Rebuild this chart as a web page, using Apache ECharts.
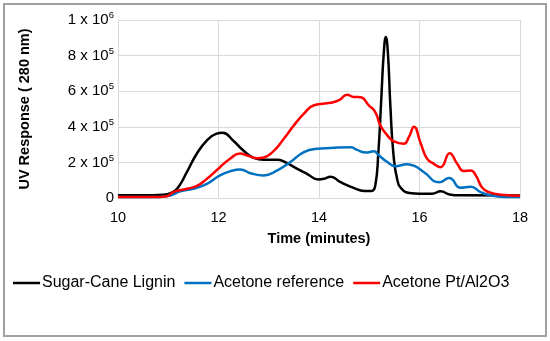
<!DOCTYPE html>
<html><head><meta charset="utf-8">
<script src="https://cdn.jsdelivr.net/npm/echarts@6/dist/echarts.min.js"></script>
<style>html,body{margin:0;padding:0;background:#fff}#c{width:550px;height:341px}</style>
</head><body><div id="c"></div>
<script>
const seriesNames = ['Sugar-Cane Lignin', 'Acetone reference', 'Acetone Pt/Al2O3'];
const xTicks = [10, 12, 14, 16, 18];
const yTickLabels = {0:'0', 200000:'2 x 10^5', 400000:'4 x 10^5', 600000:'6 x 10^5', 800000:'8 x 10^5', 1000000:'1 x 10^6'};

const ligninTime = [10.0,10.5,10.9,11.1,11.2,11.37,11.57,11.77,11.95,12.08,12.3,12.5,12.7,12.9,13.17,13.3,13.56,13.76,13.99,14.1,14.23,14.43,14.69,14.9,15.05,15.12,15.18,15.24,15.29,15.33,15.37,15.42,15.48,15.56,15.65,15.8,16.0,16.25,16.42,16.6,16.8,18.0];
const ligninUV   = [15000,15000,18000,35000,60000,145000,250000,324000,360000,366000,320000,265000,225000,215000,215000,205000,165000,136000,104000,108000,120000,89000,57000,40000,40000,70000,250000,560000,820000,905000,820000,520000,250000,100000,50000,28000,24000,24000,38000,20000,15000,14000];

const refTime = [10.0,10.8,11.04,11.24,11.5,11.77,12.03,12.23,12.43,12.65,12.9,13.17,13.43,13.7,13.96,14.23,14.63,14.76,14.93,15.09,15.19,15.36,15.52,15.75,15.9,16.09,16.39,16.59,16.82,17.02,17.22,17.42,17.7,18.0];
const refUV   = [5000,6000,14000,38000,52000,80000,127000,150000,160000,138000,127000,155000,202000,258000,277000,281000,285000,270000,255000,262000,240000,202000,178000,190000,180000,145000,88000,112000,57000,63000,33000,15000,6000,5000];

const ptTime = [10.0,10.8,10.97,11.1,11.37,11.57,11.77,12.03,12.23,12.43,12.57,12.77,12.9,13.1,13.3,13.5,13.7,13.9,14.23,14.4,14.56,14.69,14.83,14.99,15.12,15.22,15.36,15.49,15.69,15.79,15.89,16.02,16.15,16.28,16.42,16.6,16.75,16.88,17.02,17.12,17.25,17.38,17.62,18.0];
const ptUV   = [5000,6000,10000,33000,52000,68000,108000,173000,221000,250000,239000,224000,228000,265000,333000,408000,474000,521000,535000,550000,580000,568000,566000,521000,483000,408000,352000,318000,305000,343000,400000,310000,221000,193000,173000,252000,193000,151000,155000,127000,57000,33000,18000,12000];

const zip = (a, b) => a.map((t, i) => [t, b[i]]);
const colors = ['#000000', '#0070c0', '#ff0000'];
const dataSets = [zip(ligninTime, ligninUV), zip(refTime, refUV), zip(ptTime, ptUV)];

const chart = echarts.init(document.getElementById('c'));
const font = 'Liberation Sans, Arial, sans-serif';
chart.setOption({
  animation: false,
  graphic: [{type:'rect', shape:{x:4, y:4, width:542, height:332}, style:{fill:'none', stroke:'#a0a0a0', lineWidth:2}}],
  grid: {left:118, right:30, top:20, bottom:143},
  legend: {
    top: 270, left: 8, icon: 'rect', itemWidth: 27, itemHeight: 2.5, itemGap: 9,
    textStyle: {fontFamily: font, fontSize: 16, color: '#000', padding:[0,0,0,-3]},
    data: seriesNames
  },
  xAxis: {
    type: 'value', min: 10, max: 18, interval: 2,
    name: 'Time (minutes)', nameLocation: 'middle', nameGap: 33,
    nameTextStyle: {fontFamily: font, fontSize: 14.5, fontWeight: 'bold', color:'#000'},
    axisLine: {show: true, lineStyle: {color: '#d9d9d9'}},
    axisTick: {show: false},
    axisLabel: {fontFamily: font, fontSize: 14.5, color: '#000', margin: 12, formatter: v => xTicks.includes(v) ? String(v) : ''},
    splitLine: {show: true, lineStyle: {color: '#d9d9d9'}}
  },
  yAxis: {
    type: 'value', min: 0, max: 1000000, interval: 200000,
    name: 'UV Response ( 280 nm)', nameLocation: 'middle', nameGap: 86, nameRotate: 90,
    nameTextStyle: {fontFamily: font, fontSize: 14.5, fontWeight: 'bold', color:'#000'},
    axisLine: {show: true, lineStyle: {color: '#d9d9d9'}},
    axisTick: {show: false},
    axisLabel: {
      margin: 4, fontFamily: font, fontSize: 15, color: '#000',
      formatter: v => { const s = yTickLabels[v]; if (!s) return ''; if (s.indexOf('^') < 0) return '{b|' + s + '}'; const p = s.split('^'); return '{b|' + p[0] + '}{s|' + p[1] + '}'; },
      rich: {b: {fontFamily: font, fontSize: 15, color:'#000'}, s: {fontFamily: font, fontSize: 9.5, color:'#000', verticalAlign:'top', padding:[0,0,9,0]}}
    },
    splitLine: {show: true, lineStyle: {color: '#d9d9d9'}}
  },
  series: seriesNames.map((n, i) => ({
    name: n, type: 'line', data: dataSets[i], smooth: 0.5,
    showSymbol: false, symbol: 'none', color: colors[i],
    lineStyle: {width: 2.5, color: colors[i]}
  }))
});
</script></body></html>
